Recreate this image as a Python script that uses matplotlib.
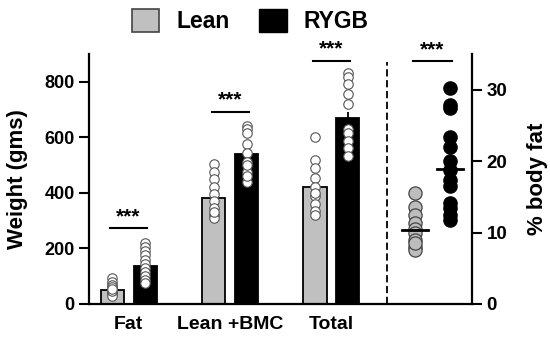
import numpy as np
import matplotlib
matplotlib.use('Agg')
import matplotlib.pyplot as plt
from matplotlib.patches import Patch

plt.rcParams['font.family'] = ['Liberation Sans', 'DejaVu Sans']
plt.rcParams['font.weight'] = 'bold'

# ---- data ----
groups = ['Fat', 'Lean +BMC', 'Total']
lean_mean = [50, 380, 423]
rygb_mean = [138, 541, 671]
lean_sem = [8, 18, 25]
rygb_sem = [15, 22, 22]

lean_pts = [
    [92, 80, 70, 60, 50, 42, 35, 30, 45, 55],
    [505, 475, 450, 420, 395, 370, 345, 320, 310, 330],
    [600, 520, 490, 455, 420, 390, 360, 335, 320, 400],
]
rygb_pts = [
    [218, 204, 190, 176, 160, 145, 130, 115, 100, 88, 76],
    [642, 631, 617, 577, 545, 510, 475, 440, 460, 500],
    [832, 818, 793, 757, 721, 631, 617, 588, 563, 534],
]

bf_lean = [15.5, 13.6, 12.4, 11.4, 10.5, 10.0, 9.0, 8.0, 7.5, 8.5]
bf_rygb = [30.3, 27.9, 27.5, 23.4, 22.0, 20.0, 18.8, 17.3, 16.5, 14.2, 13.5, 12.5, 11.8]
bf_mean = [10.3, 18.9]

# ---- figure ----
fig = plt.figure(figsize=(5.5, 3.38), dpi=100)
ax = fig.add_axes([0.162, 0.1006, 0.696, 0.7396])

x = np.arange(len(groups))
off = 0.1625
w = 0.227

ax.errorbar(x - off, lean_mean, yerr=[np.zeros(3), lean_sem], fmt='none',
            ecolor='black', elinewidth=1.3, capsize=0, zorder=1)
ax.errorbar(x + off, rygb_mean, yerr=[np.zeros(3), rygb_sem], fmt='none',
            ecolor='black', elinewidth=1.3, capsize=0, zorder=1)
ax.bar(x - off, lean_mean, width=w, color='#c0c0c0', edgecolor='black', linewidth=1.3, zorder=2)
ax.bar(x + off, rygb_mean, width=w, color='black', edgecolor='black', linewidth=1.3, zorder=2)

for i in range(len(groups)):
    ax.plot([x[i] - off] * len(lean_pts[i]), lean_pts[i], 'o', ms=6.8, mfc='white',
            mec='#555555', mew=0.8, zorder=3)
    ax.plot([x[i] + off] * len(rygb_pts[i]), rygb_pts[i], 'o', ms=6.8, mfc='white',
            mec='#555555', mew=0.8, zorder=3)

# significance bars on the weight panel
sig_y = [272, 692, 875]
for i in range(len(groups)):
    ax.plot([x[i] - off - 0.02, x[i] + off + 0.02], [sig_y[i], sig_y[i]], color='black', lw=1.5)
    ax.text(x[i], sig_y[i] + 8, '***', ha='center', va='bottom', fontsize=15, fontweight='bold')

ax.set_xlim(-0.389, 3.384)
ax.set_ylim(0, 900)
ax.set_yticks([0, 200, 400, 600, 800])
ax.set_xticks(x)
ax.set_xticklabels(groups, fontsize=14, fontweight='bold')
ax.tick_params(axis='x', length=0, pad=9)
ax.tick_params(axis='y', labelsize=13, width=1.5, length=7, direction='out')
ax.set_ylabel('Weight (gms)', fontsize=16, fontweight='bold', labelpad=12)
for lab in ax.get_yticklabels():
    lab.set_fontweight('bold')
ax.spines['top'].set_visible(False)
ax.spines['right'].set_visible(False)
ax.spines['left'].set_linewidth(1.6)
ax.spines['bottom'].set_linewidth(1.6)

# dashed divider
ax.plot([2.547, 2.547], [0, 870], color='black', lw=1.3, ls=(0, (4, 2)), clip_on=False)

# ---- body fat panel on the right axis ----
ax2 = ax.twinx()
ax2.set_ylim(0, 35)
bx = [2.823, 3.167]
ax2.plot([bx[0]] * len(bf_lean), bf_lean, 'o', ms=9.5, mfc='#bdbdbd', mec='#444444', mew=0.9, zorder=3)
ax2.plot([bx[1]] * len(bf_rygb), bf_rygb, 'o', ms=9.5, mfc='black', mec='black', zorder=3)
for j in range(2):
    ax2.plot([bx[j] - 0.13, bx[j] + 0.13], [bf_mean[j], bf_mean[j]], color='black', lw=2, zorder=4)
ax2.plot([bx[0] - 0.02, bx[1] + 0.02], [34.0, 34.0], color='black', lw=1.5)
ax2.text((bx[0] + bx[1]) / 2, 34.3, '***', ha='center', va='bottom', fontsize=15, fontweight='bold')

ax2.set_yticks([0, 10, 20, 30])
ax2.tick_params(axis='y', labelsize=13.5, width=1.5, length=7, direction='out')
for lab in ax2.get_yticklabels():
    lab.set_fontweight('bold')
ax2.set_ylabel('% body fat', fontsize=16, fontweight='bold', labelpad=14)
for s in ['top', 'left', 'bottom']:
    ax2.spines[s].set_visible(False)
ax2.spines['right'].set_linewidth(1.6)

# legend
handles = [Patch(facecolor='#c0c0c0', edgecolor='#444444', linewidth=1.2, label='Lean'),
           Patch(facecolor='black', edgecolor='black', label='RYGB')]
fig.legend(handles=handles, loc='center', bbox_to_anchor=(0.455, 0.938), ncol=2, frameon=False,
           prop={'size': 16.5, 'weight': 'bold'}, handlelength=1.2, handleheight=1.2,
           handletextpad=0.75, columnspacing=1.3)

fig.savefig('out.png', dpi=100)
